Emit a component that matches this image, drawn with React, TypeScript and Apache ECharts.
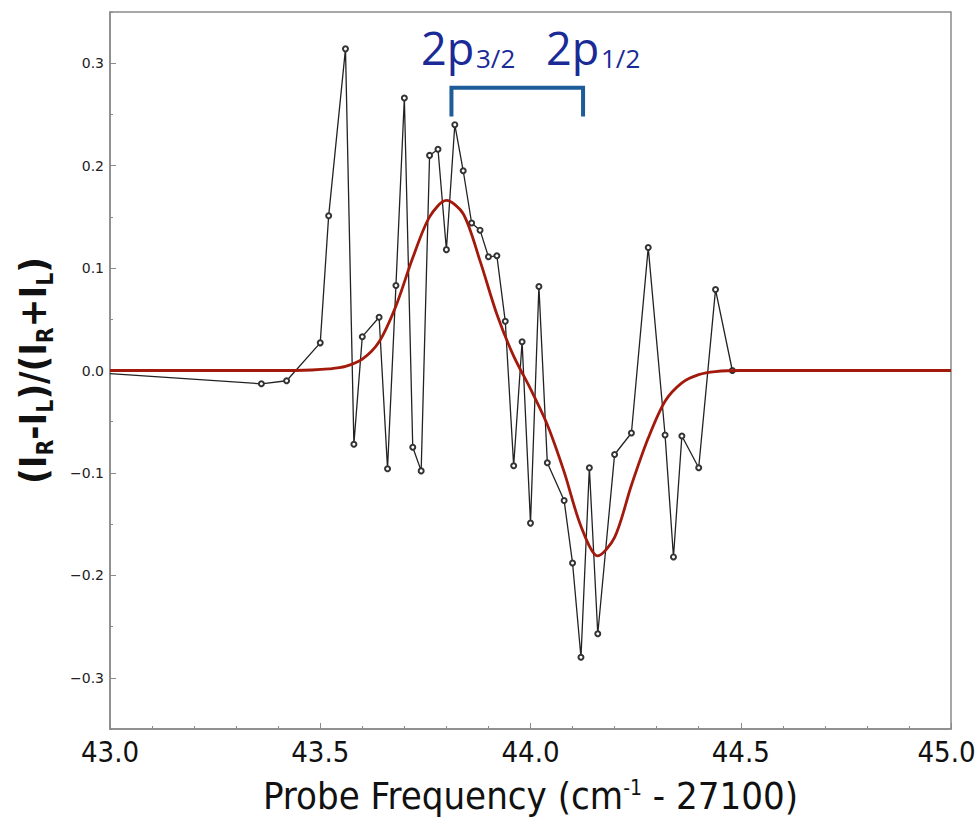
import React, { useEffect, useRef } from 'react';
import * as echarts from 'echarts';

// Measured data points (probe frequency offset, circular dichroism asymmetry)
const freq = [43.00, 43.36, 43.42, 43.50, 43.52, 43.56, 43.58, 43.60, 43.64, 43.66, 43.68, 43.70, 43.72, 43.74, 43.76, 43.78, 43.80, 43.82, 43.84, 43.86, 43.88, 43.90, 43.92, 43.94, 43.96, 43.98, 44.00, 44.02, 44.04, 44.08, 44.10, 44.12, 44.14, 44.16, 44.20, 44.24, 44.28, 44.32, 44.34, 44.36, 44.40, 44.44, 44.48];
const asym = [-0.003, -0.013, -0.010, 0.027, 0.151, 0.314, -0.072, 0.033, 0.052, -0.096, 0.083, 0.266, -0.075, -0.098, 0.210, 0.216, 0.118, 0.240, 0.195, 0.144, 0.137, 0.111, 0.112, 0.048, -0.093, 0.028, -0.149, 0.082, -0.090, -0.127, -0.188, -0.280, -0.095, -0.257, -0.082, -0.061, 0.120, -0.063, -0.182, -0.064, -0.095, 0.079, 0.000];

// Fitted curve
const fitFreq = [43.00, 43.40, 43.48, 43.52, 43.56, 43.60, 43.64, 43.68, 43.72, 43.76, 43.80, 43.84, 43.88, 43.92, 43.96, 44.00, 44.04, 44.08, 44.12, 44.16, 44.20, 44.24, 44.28, 44.32, 44.36, 44.40, 44.44, 44.50, 45.00];
const fitVal = [0, 0, 0.0005, 0.0015, 0.004, 0.011, 0.028, 0.063, 0.110, 0.150, 0.166, 0.153, 0.107, 0.055, 0.014, -0.018, -0.053, -0.099, -0.152, -0.181, -0.163, -0.112, -0.066, -0.030, -0.012, -0.004, -0.001, 0, 0];

// Axis ticks
const yMajorTicks = [-0.3, -0.2, -0.1, 0, 0.1, 0.2, 0.3];
const yMinorTicks = [-0.35, -0.25, -0.15, -0.05, 0.05, 0.15, 0.25, 0.35];

// Annotation: bracket from 2p3/2 to 2p1/2
const bracketX = [43.812, 44.125];
const bracketY = [0.248, 0.276];

const AXIS_GREY = '#8a8a8a';
const LABEL_FONT = "'Liberation Sans Narrow', 'DejaVu Sans Condensed', 'Open Sans', sans-serif";

export default function App() {
  const ref = useRef<HTMLDivElement>(null);
  useEffect(() => {
    const chart = echarts.init(ref.current!, null, { renderer: 'svg' });
    const option: any = {
      animation: false,
      backgroundColor: '#ffffff',
      grid: {
        left: 110, top: 12, right: 25, bottom: 91,
        outerBoundsMode: 'none', containLabel: false,
        show: true, borderColor: AXIS_GREY, borderWidth: 1.5, backgroundColor: 'transparent',
      },
      xAxis: {
        type: 'value', min: 43, max: 45, interval: 0.5,
        axisLine: { show: true, onZero: false, lineStyle: { color: AXIS_GREY, width: 1.5 } },
        axisTick: { show: true, inside: true, length: 6, lineStyle: { color: AXIS_GREY, width: 1 } },
        minorTick: { show: true, splitNumber: 5, length: 3, lineStyle: { color: AXIS_GREY, width: 1 } },
        splitLine: { show: false },
        axisLabel: {
          formatter: (v: number) => (v >= 45 ? '{e|' + v.toFixed(1) + '}' : v.toFixed(1)),
          fontSize: 29, color: '#111', margin: 8,
          fontFamily: LABEL_FONT,
          rich: {
            e: { fontSize: 29, color: '#111', fontFamily: LABEL_FONT, padding: [0, 9, 0, 0] },
          },
        },
        name: '{a|Probe Frequency (cm}{s|-1}{a| - 27100)}',
        nameLocation: 'middle', nameGap: 48,
        nameTextStyle: {
          fontFamily: LABEL_FONT, color: '#111',
          rich: {
            a: { fontSize: 38, fontFamily: LABEL_FONT, color: '#111', lineHeight: 38, verticalAlign: 'bottom' },
            s: { fontSize: 21, fontFamily: LABEL_FONT, color: '#111', lineHeight: 22, verticalAlign: 'top' },
          },
        },
      },
      yAxis: [
        {
          type: 'value', min: -0.35, max: 0.35,
          axisLine: { show: true, onZero: false, lineStyle: { color: AXIS_GREY, width: 1.5 } },
          axisTick: { show: true, inside: true, length: 6, customValues: yMajorTicks, lineStyle: { color: AXIS_GREY, width: 1 } },
          splitLine: { show: false },
          axisLabel: {
            customValues: yMajorTicks,
            formatter: (v: number) => v.toFixed(1).replace('-', '\u2212'),
            fontSize: 14, color: '#222', margin: 6, fontFamily: "'DejaVu Sans', sans-serif",
          },
          name: '{a|(I}{b|R}{a|-I}{b|L}{a|)/(I}{b|R}{a|+I}{b|L}{a|)}',
          nameLocation: 'middle', nameGap: 54, nameRotate: 90,
          nameTextStyle: {
            rich: {
              a: { fontSize: 38, fontWeight: 'bold', fontFamily: LABEL_FONT, color: '#111', lineHeight: 42, verticalAlign: 'top' },
              b: { fontSize: 23, fontWeight: 'bold', fontFamily: LABEL_FONT, color: '#111', lineHeight: 23, verticalAlign: 'bottom' },
            },
          },
        },
        {
          type: 'value', min: -0.35, max: 0.35, position: 'left',
          axisLine: { show: false, onZero: false },
          axisTick: { show: true, inside: true, length: 3, customValues: yMinorTicks, lineStyle: { color: AXIS_GREY, width: 1 } },
          axisLabel: { show: false },
          splitLine: { show: false },
        },
      ],
      series: [
        {
          type: 'line', name: 'data', yAxisIndex: 0,
          data: freq.map((f, i) => i === 0
            ? { value: [f, asym[i]], symbol: 'none' }
            : [f, asym[i]]),
          symbol: 'emptyCircle', symbolSize: 5, showSymbol: true,
          lineStyle: { color: '#222', width: 1.3 },
          itemStyle: { color: '#333', borderColor: '#333', borderWidth: 1.1 },
          z: 2,
        },
        {
          type: 'line', name: 'fit', yAxisIndex: 0,
          data: fitFreq.map((f, i) => [f, fitVal[i]]),
          smooth: 0.3, showSymbol: false, symbol: 'none',
          lineStyle: { color: '#a31a0d', width: 2.8 },
          z: 3,
        },
      ],
    };
    chart.setOption(option);

    const px = (x: number, y: number) => chart.convertToPixel({ seriesIndex: 0 }, [x, y]) as number[];
    const bl = px(bracketX[0], bracketY[0]);
    const tl = px(bracketX[0], bracketY[1]);
    const tr = px(bracketX[1], bracketY[1]);
    const br = px(bracketX[1], bracketY[0]);
    const blue = '#1a2a96';
    const annFont = "'Open Sans', sans-serif";
    chart.setOption({
      graphic: [
        {
          type: 'polyline', z: 10,
          shape: { points: [bl, tl, tr, br] },
          style: { stroke: '#1d5c98', lineWidth: 4, fill: null, lineJoin: 'miter' },
        },
        { type: 'text', x: 421, y: 47.5, z: 10, style: { text: '2p', fontSize: 45, fontFamily: annFont, fill: blue, align: 'left', verticalAlign: 'middle' } },
        { type: 'text', x: 476, y: 58, z: 10, style: { text: '3/2', fontSize: 26, fontFamily: annFont, fill: blue, align: 'left', verticalAlign: 'middle' } },
        { type: 'text', x: 546, y: 47.5, z: 10, style: { text: '2p', fontSize: 45, fontFamily: annFont, fill: blue, align: 'left', verticalAlign: 'middle' } },
        { type: 'text', x: 601, y: 58, z: 10, style: { text: '1/2', fontSize: 26, fontFamily: annFont, fill: blue, align: 'left', verticalAlign: 'middle' } },
      ],
    });
    return () => chart.dispose();
  }, []);
  return <div ref={ref} style={{ position: 'fixed', left: 0, top: 0, width: 976, height: 820, background: '#fff' }} />;
}
